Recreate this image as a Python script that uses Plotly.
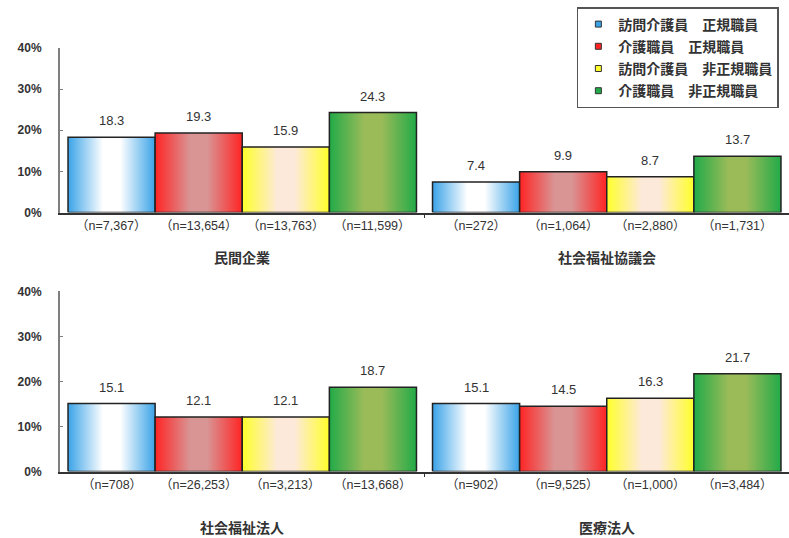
import plotly.graph_objects as go

# ---- data -------------------------------------------------------------
SERIES = ["訪問介護員　正規職員", "介護職員　正規職員",
          "訪問介護員　非正規職員", "介護職員　非正規職員"]

TOP_GROUPS = ["民間企業", "社会福祉協議会"]
TOP_VALUES = [[18.3, 7.4], [19.3, 9.9], [15.9, 8.7], [24.3, 13.7]]
TOP_N = [["7,367", "272"], ["13,654", "1,064"], ["13,763", "2,880"], ["11,599", "1,731"]]

BOTTOM_GROUPS = ["社会福祉法人", "医療法人"]
BOTTOM_VALUES = [[15.1, 15.1], [12.1, 14.5], [12.1, 16.3], [18.7, 21.7]]
BOTTOM_N = [["708", "902"], ["26,253", "9,525"], ["3,213", "1,000"], ["13,668", "3,484"]]

Y_TICKS = [0, 10, 20, 30, 40]
Y_TICK_LABELS = ["0%", "10%", "20%", "30%", "40%"]

# ---- style ------------------------------------------------------------
EDGE = ["#3aa3e8", "#ff2424", "#ffff2a", "#22aa48"]
MID = ["#ffffff", "#d99494", "#fde9da", "#9bbb59"]
BAR_W = 0.239
FONT = "Arial, 'Liberation Sans', 'Noto Sans CJK JP', sans-serif"
TXT = "#333333"

fig = go.Figure()


def add_panel(values, ns, groups, xa, ya, group_shift):
    xref = "x" if xa == "xaxis" else "x2"
    yref = "y" if ya == "yaxis" else "y2"
    for s, row in enumerate(values):
        scale = [[0, EDGE[s]], [0.4, MID[s]], [0.6, MID[s]], [1, EDGE[s]]]
        for g, v in enumerate(row):
            c = g + (s - 1.5) * BAR_W
            l, r = c - BAR_W / 2, c + BAR_W / 2
            fig.add_trace(go.Scatter(
                x=[l, r, r, l, l], y=[0, 0, v, v, 0],
                xaxis=xref, yaxis=yref,
                mode="lines", fill="toself",
                fillgradient=dict(type="horizontal", colorscale=scale),
                line=dict(color="#222222", width=1.5),
                showlegend=False, hoverinfo="skip"))
            fig.add_annotation(x=c, y=v, xref=xref, yref=yref,
                               text=f"{v:.1f}", showarrow=False,
                               yanchor="bottom", yshift=7,
                               font=dict(family=FONT, size=13, color=TXT))
            fig.add_annotation(x=c, y=0, xref=xref, yref=yref,
                               text=f"（n={ns[s][g]}）", showarrow=False,
                               yanchor="top", yshift=-4,
                               font=dict(family=FONT, size=12.5, color=TXT))
    for g, name in enumerate(groups):
        fig.add_annotation(x=g, y=0, xref=xref, yref=yref,
                           text=f"<b>{name}</b>", showarrow=False,
                           yanchor="top", yshift=group_shift,
                           font=dict(family=FONT, size=14, color=TXT))


add_panel(TOP_VALUES, TOP_N, TOP_GROUPS, "xaxis", "yaxis", -35)
add_panel(BOTTOM_VALUES, BOTTOM_N, BOTTOM_GROUPS, "xaxis2", "yaxis2", -46)

# legend entries
for s, name in enumerate(SERIES):
    fig.add_trace(go.Scatter(
        x=[None], y=[None], mode="markers", name=name, legendgroup=name,
        marker=dict(symbol="square", size=6, color=EDGE[s],
                    line=dict(color="#333333", width=1))))

xcommon = dict(range=[-0.5, 1.5], showgrid=False, zeroline=False,
               showticklabels=False, showline=True, linecolor="#333333",
               linewidth=2, tickvals=[0.5], ticks="outside", ticklen=3,
               tickcolor="#333333", fixedrange=True)
ycommon = dict(range=[0, 40], tickvals=Y_TICKS, ticktext=Y_TICK_LABELS,
               showgrid=False, zeroline=False, showline=True,
               linecolor="#7f7f7f", linewidth=2, ticks="inside", ticklen=3,
               tickcolor="#7f7f7f", ticklabelstandoff=14,
               tickfont=dict(family=FONT, size=12, color=TXT, weight="bold"))

fig.update_layout(
    width=789, height=538,
    margin=dict(l=60, r=0, t=0, b=0),
    paper_bgcolor="white", plot_bgcolor="white",
    xaxis=dict(domain=[0, 1], anchor="y", **xcommon),
    yaxis=dict(domain=[0.6078, 0.9219], anchor="x", **ycommon),
    xaxis2=dict(domain=[0, 1], anchor="y2", **xcommon),
    yaxis2=dict(domain=[0.1134, 0.4572], anchor="x2", **ycommon),
    legend=dict(x=0.709, y=1.0, xanchor="left", yanchor="top",
                bgcolor="white", bordercolor="#555555", borderwidth=1.5,
                tracegroupgap=1, itemwidth=30,
                font=dict(family=FONT, size=14, color=TXT, weight="bold")),
    showlegend=True,
)

fig.write_html("out.html")
